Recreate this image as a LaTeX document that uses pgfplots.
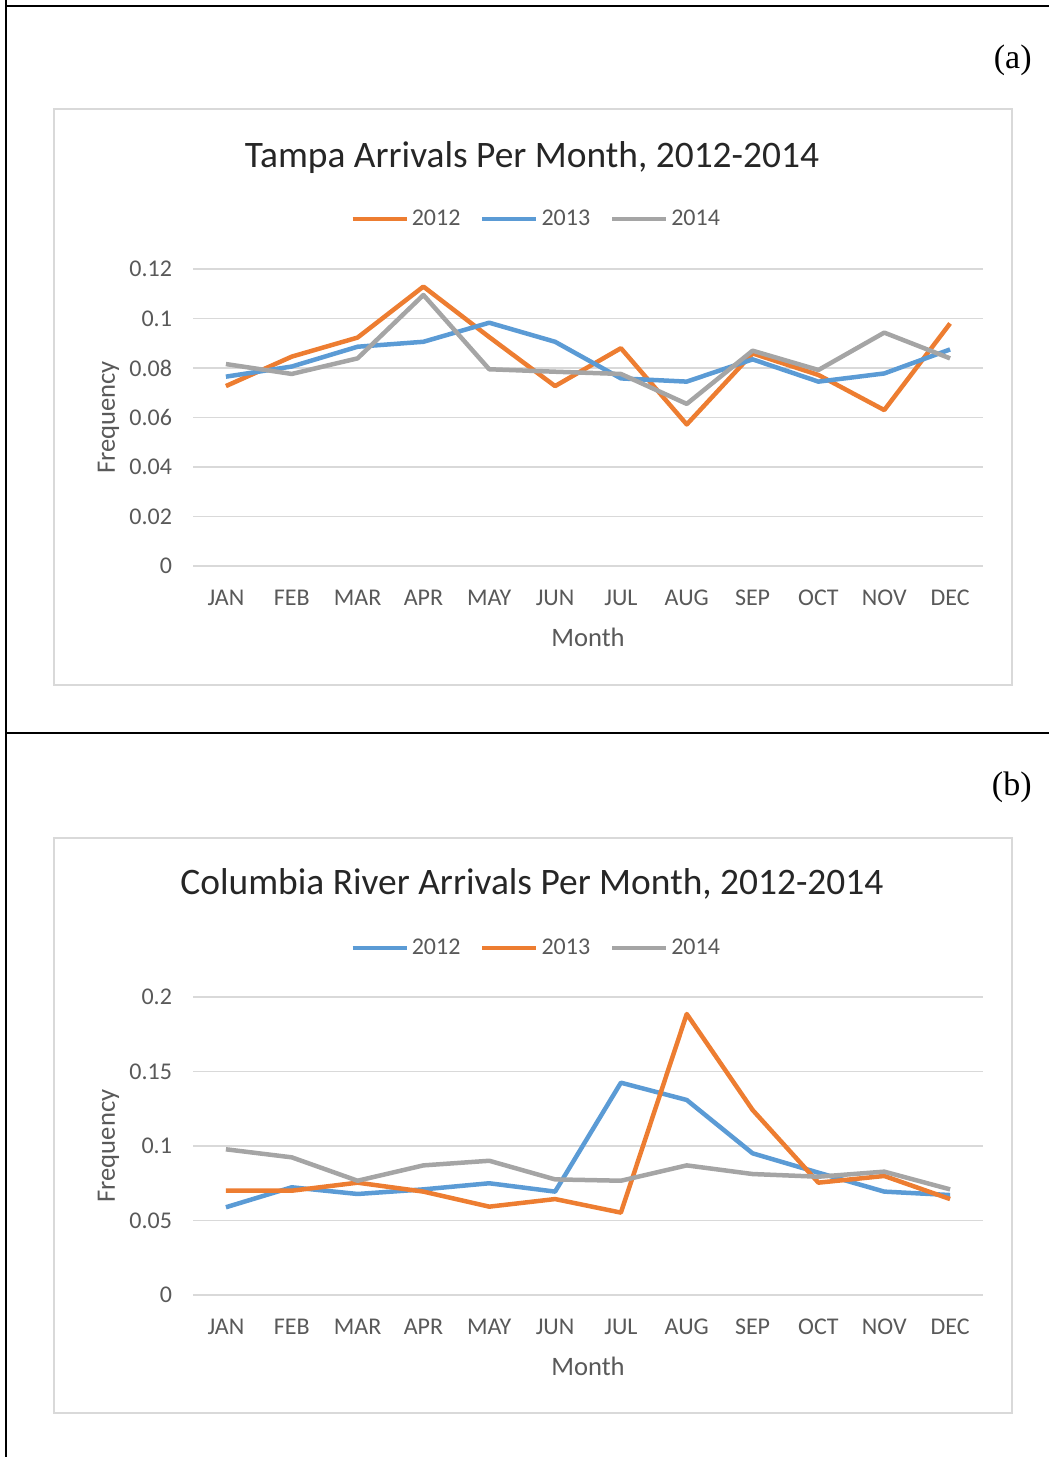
\documentclass[border=0pt]{standalone}
\usepackage{fontspec}
\setmainfont{Carlito}
\newfontfamily\panelfont{Liberation Serif}
\usepackage{pgfplots}
\pgfplotsset{compat=1.18}
\definecolor{xorange}{HTML}{ED7D31}
\definecolor{xblue}{HTML}{5B9BD5}
\definecolor{xgray}{HTML}{A5A5A5}
\definecolor{gridc}{HTML}{D9D9D9}
\definecolor{txt}{HTML}{595959}
\pgfplotsset{
 excel/.style={
  scale only axis, width=395pt,
  xmin=-0.5, xmax=11.5,
  xtick={0,...,11},
  xticklabels={JAN,FEB,MAR,APR,MAY,JUN,JUL,AUG,SEP,OCT,NOV,DEC},
  axis line style={draw=none},
  major tick length=0pt,
  ymajorgrids, grid style={gridc, line width=0.75pt},
  tick label style={font=\fontsize{12}{14}\selectfont, text=txt},
  xticklabel style={anchor=base, yshift=-19.5pt},
  yticklabel style={xshift=-7pt},
  label style={font=\fontsize{13.3}{16}\selectfont, text=txt},
  xlabel=Month, ylabel=Frequency,
  xlabel style={at={(axis description cs:0.5,0)}, anchor=base, yshift=-40pt},
  ylabel style={at={(axis description cs:-0.107,0.5)}, anchor=center},
  title style={font=\fontsize{18.7}{22}\selectfont, text=black!85, anchor=center, yshift=-7.2pt},
  legend columns=3,
  legend style={draw=none, fill=none, anchor=center, font=\fontsize{12}{14}\selectfont, text=txt,
    nodes={inner sep=1.5pt},
    /tikz/every even column/.append style={column sep=8.3pt}},
  legend image code/.code={\draw[#1,line width=2.25pt] (0pt,0pt) -- (27pt,0pt);},
  every axis plot/.append style={line width=2.25pt, line join=round},
 }
}
\begin{document}
\begin{tikzpicture}
\path[use as bounding box] (0,0) rectangle (524.5pt,-728.5pt);
\draw[line width=1pt] (3pt,0) -- (3pt,-728.5pt);
\draw[line width=1pt] (3pt,-3pt) -- (524.5pt,-3pt);
\draw[line width=1pt] (3pt,-366.5pt) -- (524.5pt,-366.5pt);
\draw[gridc, line width=0.9pt] (27pt,-54.5pt) rectangle (506pt,-342.5pt);
\draw[gridc, line width=0.9pt] (27pt,-419pt) rectangle (506pt,-706.5pt);
\node[font=\panelfont\fontsize{17}{19}\selectfont, anchor=east, inner sep=0pt] at (516pt,-30pt) {(a)};
\node[font=\panelfont\fontsize{17}{19}\selectfont, anchor=east, inner sep=0pt] at (516pt,-393.5pt) {(b)};

\begin{axis}[excel, height=148.5pt, at={(96.5pt,-283pt)}, anchor=south west,
  ymin=0, ymax=0.12, ytick={0,0.02,0.04,0.06,0.08,0.1,0.12},
  yticklabels={0,0.02,0.04,0.06,0.08,0.1,0.12},
  title={Tampa Arrivals Per Month, 2012-2014},
  title style={at={(axis description cs:0.429,1.384)}},
  legend style={at={(axis description cs:0.435,1.168)}}]
\addplot[xorange] coordinates {(0,0.0727)(1,0.0846)(2,0.0923)(3,0.1129)(4,0.0925)(5,0.0727)(6,0.0880)(7,0.0572)(8,0.0859)(9,0.0772)(10,0.0630)(11,0.0980)};
\addlegendentry{2012}
\addplot[xblue] coordinates {(0,0.0765)(1,0.0806)(2,0.0886)(3,0.0906)(4,0.0983)(5,0.0906)(6,0.0758)(7,0.0745)(8,0.0835)(9,0.0745)(10,0.0778)(11,0.0875)};
\addlegendentry{2013}
\addplot[xgray] coordinates {(0,0.0816)(1,0.0776)(2,0.0839)(3,0.1095)(4,0.0795)(5,0.0785)(6,0.0776)(7,0.0655)(8,0.0870)(9,0.0792)(10,0.0943)(11,0.0839)};
\addlegendentry{2014}
\end{axis}

\begin{axis}[excel, height=149pt, at={(96.5pt,-647.5pt)}, anchor=south west,
  ymin=0, ymax=0.2, ytick={0,0.05,0.1,0.15,0.2},
  yticklabels={0,0.05,0.1,0.15,0.2},
  title={Columbia River Arrivals Per Month, 2012-2014},
  title style={at={(axis description cs:0.429,1.386)}},
  legend style={at={(axis description cs:0.435,1.164)}}]
\addplot[xblue] coordinates {(0,0.0589)(1,0.0723)(2,0.0678)(3,0.0709)(4,0.0750)(5,0.0694)(6,0.1425)(7,0.1309)(8,0.0951)(9,0.0821)(10,0.0694)(11,0.0671)};
\addlegendentry{2012}
\addplot[xorange] coordinates {(0,0.0700)(1,0.0700)(2,0.0754)(3,0.0694)(4,0.0593)(5,0.0644)(6,0.0553)(7,0.1886)(8,0.1242)(9,0.0754)(10,0.0799)(11,0.0644)};
\addlegendentry{2013}
\addplot[xgray] coordinates {(0,0.0978)(1,0.0924)(2,0.0767)(3,0.0870)(4,0.0901)(5,0.0776)(6,0.0767)(7,0.0870)(8,0.0812)(9,0.0794)(10,0.0828)(11,0.0709)};
\addlegendentry{2014}
\end{axis}
\end{tikzpicture}
\end{document}
